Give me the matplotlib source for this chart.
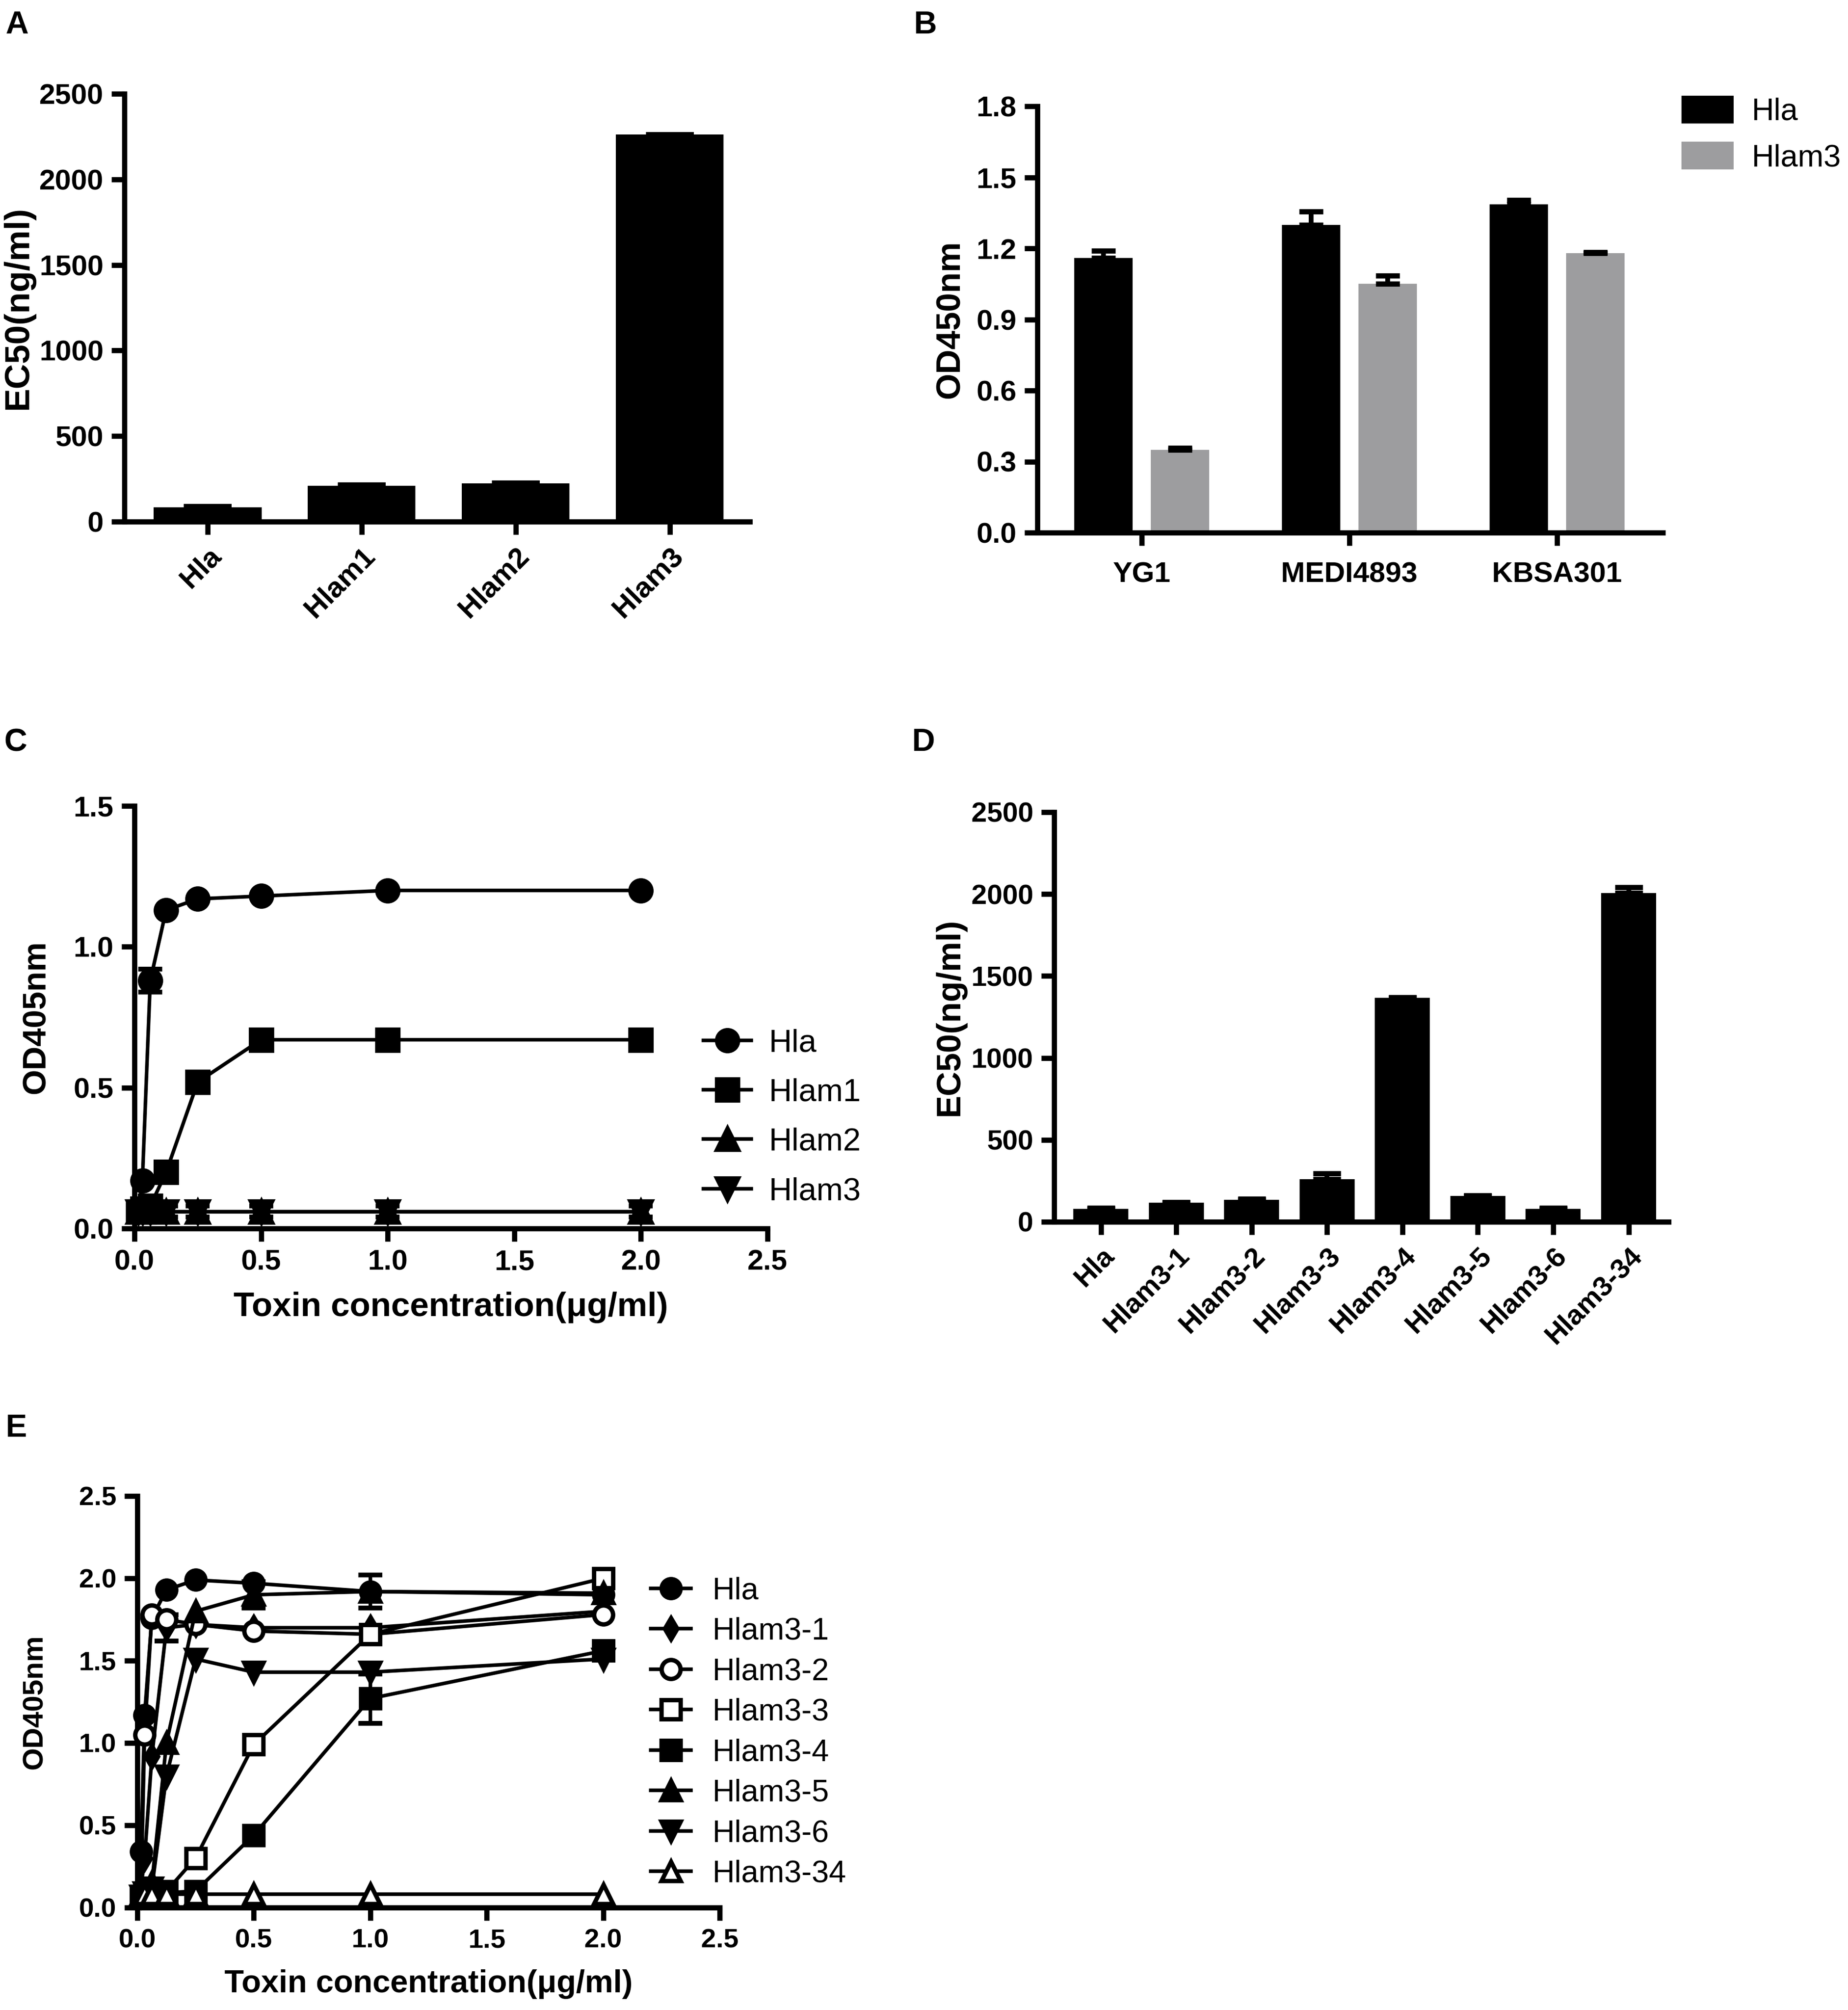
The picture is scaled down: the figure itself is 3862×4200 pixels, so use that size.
import matplotlib.pyplot as plt
import numpy as np

plt.rcParams['font.family'] = ['Liberation Sans', 'DejaVu Sans']
plt.rcParams['axes.linewidth'] = 2.6
plt.rcParams['xtick.major.width'] = 2.6
plt.rcParams['ytick.major.width'] = 2.6
plt.rcParams['xtick.major.size'] = 6.5
plt.rcParams['ytick.major.size'] = 6.5

# A - EC50 of Hla mutants
a_names = ['Hla', 'Hlam1', 'Hlam2', 'Hlam3']
a_ec50 = [84, 210, 224, 2262]
a_err = [10, 10, 9, 6]

# B - OD450 per antibody
b_groups = ['YG1', 'MEDI4893', 'KBSA301']
b_hla = [1.16, 1.30, 1.385]
b_hla_err = [0.03, 0.055, 0.02]
b_hlam3 = [0.35, 1.05, 1.18]
b_hlam3_err = [0.008, 0.035, 0.004]

# C - hemolysis curves
conc = [0.015625, 0.03125, 0.0625, 0.125, 0.25, 0.5, 1.0, 2.0]
c_labels = ['Hla', 'Hlam1', 'Hlam2', 'Hlam3']
c_hla = [0.06, 0.17, 0.88, 1.13, 1.17, 1.18, 1.20, 1.20]
c_hla_err = [0.0, 0.0, 0.04, 0.0, 0.0, 0.0, 0.0, 0.0]
c_hlam1 = [0.06, 0.07, 0.08, 0.20, 0.52, 0.67, 0.67, 0.67]
c_hlam1_err = [0, 0, 0, 0, 0, 0, 0, 0]
c_hlam2 = [0.06, 0.06, 0.06, 0.06, 0.06, 0.06, 0.06, 0.06]
c_hlam2_err = [0, 0, 0, 0, 0, 0, 0, 0]
c_hlam3 = [0.06, 0.06, 0.06, 0.06, 0.06, 0.06, 0.06, 0.06]
c_hlam3_err = [0.02, 0.02, 0.02, 0.02, 0.02, 0.02, 0.02, 0.02]

# D - EC50 of Hlam3 variants
d_names = ['Hla', 'Hlam3-1', 'Hlam3-2', 'Hlam3-3', 'Hlam3-4', 'Hlam3-5', 'Hlam3-6', 'Hlam3-34']
d_ec50 = [78, 117, 134, 260, 1366, 158, 78, 2005]
d_err = [6, 3, 6, 36, 5, 3, 6, 36]

# E - hemolysis curves of Hlam3 variants
e_labels = ['Hla', 'Hlam3-1', 'Hlam3-2', 'Hlam3-3', 'Hlam3-4', 'Hlam3-5', 'Hlam3-6', 'Hlam3-34']
e_vals = [
    [0.34, 1.17, 1.76, 1.93, 1.99, 1.97, 1.92, 1.90],
    [0.12, 0.30, 0.92, 1.70, 1.72, 1.70, 1.70, 1.80],
    [0.08, 1.05, 1.78, 1.75, 1.72, 1.68, 1.66, 1.78],
    [0.07, 0.08, 0.09, 0.10, 0.30, 0.99, 1.66, 2.00],
    [0.07, 0.07, 0.08, 0.09, 0.10, 0.44, 1.27, 1.56],
    [0.08, 0.10, 0.15, 1.00, 1.80, 1.90, 1.92, 1.91],
    [0.07, 0.09, 0.12, 0.80, 1.51, 1.43, 1.43, 1.51],
    [0.08, 0.08, 0.08, 0.08, 0.08, 0.08, 0.08, 0.08],
]
e_errs = [
    [0, 0, 0, 0, 0, 0, 0.10, 0],
    [0, 0, 0, 0.08, 0, 0, 0, 0],
    [0, 0, 0, 0, 0, 0, 0, 0],
    [0, 0, 0, 0, 0, 0, 0, 0],
    [0, 0, 0, 0, 0, 0, 0.15, 0],
    [0, 0, 0, 0, 0, 0.08, 0, 0],
    [0, 0, 0, 0, 0, 0, 0, 0],
    [0, 0, 0, 0, 0, 0, 0, 0],
]
e_markers = ['o', 'd', 'o', 's', 's', '^', 'v', '^']
e_filled = [True, True, False, False, True, True, True, False]

W, H = 3862, 4200
fig = plt.figure(figsize=(W / 300, H / 300), dpi=300)


def box(x0, y0, x1, y1):
    # pixel box (top-left origin) -> figure fraction rect
    return [x0 / W, 1 - y1 / H, (x1 - x0) / W, (y1 - y0) / H]


def style(ax, tick_fs=14):
    ax.spines['top'].set_visible(False)
    ax.spines['right'].set_visible(False)
    ax.tick_params(labelsize=tick_fs, pad=4)
    for t in ax.get_xticklabels() + ax.get_yticklabels():
        t.set_fontweight('bold')


def ylab(ax, text, fs, px_right):
    # rotated label: its bottom side faces right, so px_right is its right edge
    ax.set_ylabel(text, fontsize=fs, fontweight='bold')
    pos = ax.get_position()
    ax.yaxis.set_label_coords(px_right / W, pos.y0 + pos.height / 2,
                              transform=fig.transFigure)


def curve(ax, x, vals, err, mk, ms, filled, lab):
    ax.plot(x, vals, color='black', marker=mk, markersize=ms, linewidth=1.8,
            markerfacecolor='black' if filled else 'white',
            markeredgecolor='black', markeredgewidth=2.2,
            label=lab, clip_on=False, zorder=3)
    xs = [xi for xi, e in zip(x, err) if e > 0]
    ys = [vi for vi, e in zip(vals, err) if e > 0]
    es = [e for e in err if e > 0]
    if es:
        ax.errorbar(xs, ys, yerr=es, fmt='none', ecolor='black',
                    elinewidth=1.8, capsize=6, capthick=2.4, zorder=2)


# ---- A ----
axA = fig.add_axes(box(260, 196, 1567, 1090))
xa = np.arange(len(a_names))
axA.bar(xa, a_ec50, width=0.7, color='black')
axA.errorbar(xa, a_ec50, yerr=[np.zeros(len(a_err)), a_err], fmt='none',
             ecolor='black', elinewidth=1.5, capsize=12, capthick=1.5)
axA.set_xlim(-0.54, 3.52)
axA.set_ylim(0, 2500)
axA.set_yticks([0, 500, 1000, 1500, 2000, 2500])
axA.set_xticks(xa)
axA.set_xticklabels(a_names, rotation=45, ha='right', va='top', rotation_mode='anchor')
style(axA, 14.5)
ylab(axA, 'EC50(ng/ml)', 17.5, 72)

# ---- B ----
axB = fig.add_axes(box(2168, 222, 3475, 1113))
xb = np.arange(len(b_groups))
axB.bar(xb - 0.184, b_hla, width=0.28, color='black', label='Hla')
axB.bar(xb + 0.184, b_hlam3, width=0.28, color='#9d9d9f', label='Hlam3')
axB.errorbar(xb - 0.184, b_hla, yerr=[np.zeros(3), b_hla_err], fmt='none',
             ecolor='black', elinewidth=2.4, capsize=6, capthick=2.6)
axB.errorbar(xb + 0.184, b_hlam3, yerr=[np.zeros(3), b_hlam3_err], fmt='none',
             ecolor='black', elinewidth=2.4, capsize=6, capthick=2.6)
axB.set_xlim(-0.502, 2.509)
axB.set_ylim(0, 1.8)
axB.set_yticks([0.0, 0.3, 0.6, 0.9, 1.2, 1.5, 1.8])
axB.set_yticklabels(['0.0', '0.3', '0.6', '0.9', '1.2', '1.5', '1.8'])
axB.set_xticks(xb)
axB.set_xticklabels(b_groups)
style(axB, 14.5)
axB.tick_params(axis='x', pad=8)
ylab(axB, 'OD450nm', 17, 2020)
axB.legend(loc='center left', bbox_to_anchor=(3514 / W, 1 - 280 / H),
           bbox_transform=fig.transFigure, frameon=False, fontsize=15.5,
           handlelength=1.68, handleheight=1.0, handletextpad=0.6,
           labelspacing=0.5, borderpad=0, borderaxespad=0)

# ---- C ----
axC = fig.add_axes(box(281, 1684, 1604, 2567))
c_series = [(c_hla, c_hla_err, 'o'), (c_hlam1, c_hlam1_err, 's'),
            (c_hlam2, c_hlam2_err, '^'), (c_hlam3, c_hlam3_err, 'v')]
for lab, (vals, err, mk) in zip(c_labels, c_series):
    curve(axC, conc, vals, err, mk, 10.5, True, lab)
axC.set_xlim(0, 2.5)
axC.set_ylim(0, 1.5)
axC.set_xticks([0.0, 0.5, 1.0, 1.5, 2.0, 2.5])
axC.set_xticklabels(['0.0', '0.5', '1.0', '1.5', '2.0', '2.5'])
axC.set_yticks([0.0, 0.5, 1.0, 1.5])
axC.set_yticklabels(['0.0', '0.5', '1.0', '1.5'])
style(axC, 14.5)
axC.set_xlabel('Toxin concentration(μg/ml)', fontsize=17, fontweight='bold', labelpad=8)
ylab(axC, 'OD405nm', 16.5, 108)
axC.legend(loc='center left', bbox_to_anchor=(1470 / W, 1 - 2335 / H),
           bbox_transform=fig.transFigure, frameon=False, fontsize=16,
           handlelength=1.5, handletextpad=0.55, labelspacing=0.62,
           borderpad=0, borderaxespad=0)

# ---- D ----
axD = fig.add_axes(box(2203, 1697, 3487, 2553))
xd = np.arange(len(d_names))
axD.bar(xd, d_ec50, width=0.73, color='black')
axD.errorbar(xd, d_ec50, yerr=[np.zeros(len(d_err)), d_err], fmt='none',
             ecolor='black', elinewidth=2.4, capsize=7, capthick=2.6)
axD.set_xlim(-0.62, 7.53)
axD.set_ylim(0, 2500)
axD.set_yticks([0, 500, 1000, 1500, 2000, 2500])
axD.set_xticks(xd)
axD.set_xticklabels(d_names, rotation=45, ha='right', va='top', rotation_mode='anchor')
style(axD, 14)
ylab(axD, 'EC50(ng/ml)', 17, 2018)

# ---- E ----
axE = fig.add_axes(box(287, 3126, 1504, 3986))
for lab, vals, err, mk, filled in zip(e_labels, e_vals, e_errs, e_markers, e_filled):
    ms = 7.5 if mk == 'd' else 9.5
    curve(axE, conc, vals, err, mk, ms, filled, lab)
axE.set_xlim(0, 2.5)
axE.set_ylim(0, 2.5)
axE.set_xticks([0.0, 0.5, 1.0, 1.5, 2.0, 2.5])
axE.set_xticklabels(['0.0', '0.5', '1.0', '1.5', '2.0', '2.5'])
axE.set_yticks([0.0, 0.5, 1.0, 1.5, 2.0, 2.5])
axE.set_yticklabels(['0.0', '0.5', '1.0', '1.5', '2.0', '2.5'])
style(axE, 13.5)
axE.set_xlabel('Toxin concentration(μg/ml)', fontsize=16, fontweight='bold', labelpad=8)
ylab(axE, 'OD405nm', 14.5, 100)
axE.legend(loc='center left', bbox_to_anchor=(1360 / W, 1 - 3620 / H),
           bbox_transform=fig.transFigure, frameon=False, fontsize=15.5,
           handlelength=1.3, handletextpad=0.7, labelspacing=0.38,
           borderpad=0, borderaxespad=0)

# panel letters
for letter, px, py in [('A', 11, 22), ('B', 1910, 22), ('C', 8, 1521),
                       ('D', 1905, 1521), ('E', 11, 2954)]:
    fig.text(px / W, 1 - py / H, letter, fontsize=16, fontweight='bold',
             ha='left', va='top')

fig.savefig('out.png', dpi=300)
